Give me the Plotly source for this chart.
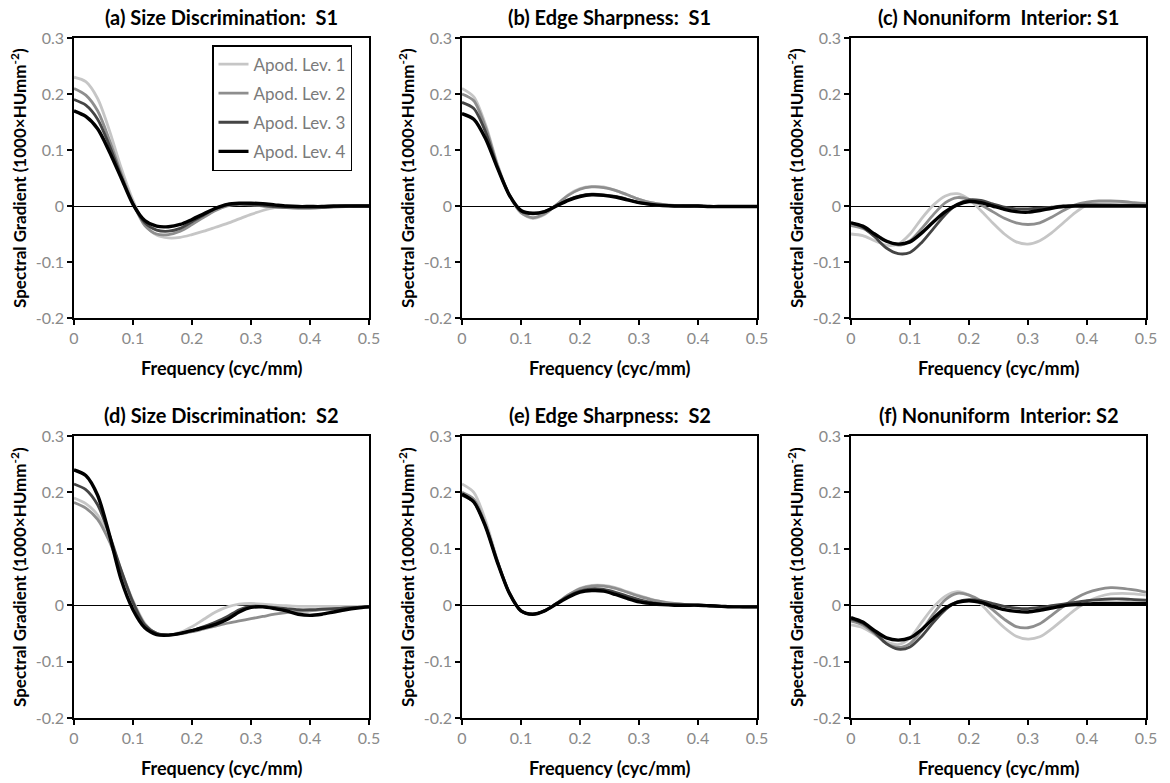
import plotly.graph_objects as go

freq = [round(i * 0.02, 2) for i in range(26)]

series_names = ["Apod. Lev. 1", "Apod. Lev. 2", "Apod. Lev. 3", "Apod. Lev. 4"]

panel_titles = [
    "(a) Size Discrimination:  S1",
    "(b) Edge Sharpness:  S1",
    "(c) Nonuniform  Interior: S1",
    "(d) Size Discrimination:  S2",
    "(e) Edge Sharpness:  S2",
    "(f) Nonuniform  Interior: S2",
]

# (a) Size Discrimination S1
a_lev1 = [.230, .222, .192, .135, .068, .010, -.033, -.052, -.057, -.056, -.051, -.045, -.038, -.031, -.023, -.015, -.008, -.003, -.002, -.003, -.003, -.002, -.001, 0, 0, 0]
a_lev2 = [.210, .198, .170, .118, .058, .005, -.035, -.050, -.051, -.045, -.033, -.020, -.008, .000, .003, .002, .000, -.002, -.003, -.004, -.004, -.003, -.002, -.001, 0, 0]
a_lev3 = [.190, .180, .155, .108, .053, .004, -.030, -.043, -.045, -.040, -.028, -.016, -.005, .002, .004, .003, .001, -.001, -.002, -.002, -.002, -.002, -.001, 0, 0, 0]
a_lev4 = [.170, .160, .138, .097, .050, .003, -.026, -.036, -.037, -.033, -.024, -.014, -.004, .003, .005, .005, .004, .002, 0, -.001, -.001, -.001, 0, 0, 0, 0]

# (b) Edge Sharpness S1
b_lev1 = [.210, .195, .145, .075, .020, -.012, -.022, -.015, .002, .020, .031, .035, .034, .028, .020, .012, .006, .003, .001, 0, 0, -.001, -.001, -.001, -.001, -.001]
b_lev2 = [.200, .188, .140, .073, .020, -.012, -.021, -.014, .002, .019, .030, .034, .033, .028, .020, .012, .006, .003, .001, 0, 0, -.001, -.001, -.001, -.001, -.001]
b_lev3 = [.185, .174, .132, .070, .020, -.009, -.014, -.010, .001, .011, .018, .021, .020, .017, .012, .006, .003, .001, 0, 0, 0, -.001, -.001, -.001, -.001, -.001]
b_lev4 = [.165, .155, .120, .068, .020, -.008, -.013, -.010, .000, .010, .017, .020, .019, .016, .011, .006, .003, .001, 0, 0, 0, -.001, -.001, -.001, -.001, -.001]

# (c) Nonuniform Interior S1
c_lev1 = [-.050, -.053, -.062, -.070, -.068, -.050, -.022, .002, .018, .022, .012, -.008, -.030, -.050, -.064, -.068, -.062, -.048, -.030, -.012, .002, .007, .008, .006, .004, .002]
c_lev2 = [-.035, -.040, -.050, -.062, -.070, -.062, -.040, -.015, .006, .015, .012, .002, -.010, -.022, -.030, -.033, -.030, -.020, -.008, .002, .007, .009, .009, .008, .006, .004]
c_lev3 = [-.030, -.038, -.055, -.075, -.085, -.083, -.065, -.040, -.015, .003, .011, .010, .004, -.002, -.005, -.005, -.004, -.002, 0, .001, .002, .002, .002, .001, .001, 0]
c_lev4 = [-.030, -.036, -.050, -.063, -.068, -.064, -.048, -.028, -.010, .002, .008, .006, .000, -.006, -.010, -.011, -.008, -.004, -.001, 0, 0, 0, 0, 0, 0, 0]

# (d) Size Discrimination S2
d_lev1 = [.190, .180, .160, .118, .062, .008, -.032, -.050, -.053, -.048, -.038, -.025, -.012, -.003, .002, .003, .002, .000, -.001, -.002, -.002, -.002, -.002, -.002, -.002, -.003]
d_lev2 = [.182, .172, .152, .113, .060, .006, -.034, -.050, -.053, -.051, -.047, -.042, -.037, -.032, -.028, -.024, -.020, -.016, -.013, -.011, -.010, -.008, -.007, -.005, -.004, -.003]
d_lev3 = [.215, .205, .178, .125, .062, .005, -.035, -.050, -.053, -.050, -.045, -.038, -.030, -.020, -.008, -.002, -.002, -.004, -.006, -.008, -.008, -.007, -.006, -.005, -.004, -.003]
d_lev4 = [.240, .230, .195, .125, .045, -.008, -.040, -.052, -.053, -.050, -.045, -.040, -.034, -.025, -.012, -.004, -.003, -.006, -.010, -.016, -.018, -.016, -.012, -.008, -.005, -.003]

# (e) Edge Sharpness S2
e_lev1 = [.215, .200, .150, .080, .022, -.010, -.016, -.010, .003, .018, .030, .035, .035, .031, .024, .017, .011, .006, .003, .001, 0, -.001, -.002, -.002, -.003, -.003]
e_lev2 = [.200, .188, .143, .078, .022, -.010, -.016, -.010, .003, .018, .029, .034, .034, .030, .023, .016, .010, .006, .003, .001, 0, -.001, -.002, -.002, -.003, -.003]
e_lev3 = [.195, .183, .140, .077, .022, -.010, -.016, -.010, .003, .016, .025, .029, .028, .023, .016, .010, .005, .002, .001, 0, 0, -.001, -.002, -.002, -.003, -.003]
e_lev4 = [.197, .183, .139, .076, .022, -.010, -.016, -.010, .002, .014, .023, .026, .025, .019, .012, .006, .003, .001, 0, 0, 0, -.001, -.002, -.003, -.003, -.003]

# (f) Nonuniform Interior S2
f_lev1 = [-.035, -.040, -.052, -.065, -.070, -.058, -.030, -.003, .016, .024, .018, .002, -.020, -.040, -.055, -.060, -.056, -.042, -.025, -.008, .006, .015, .020, .021, .020, .018]
f_lev2 = [-.028, -.035, -.050, -.068, -.075, -.068, -.045, -.015, .010, .021, .018, .008, -.008, -.025, -.038, -.040, -.033, -.018, -.002, .012, .022, .028, .031, .030, .027, .023]
f_lev3 = [-.025, -.032, -.048, -.068, -.078, -.074, -.055, -.030, -.008, .006, .010, .008, .003, -.002, -.005, -.006, -.004, -.001, .002, .005, .008, .010, .011, .011, .010, .009]
f_lev4 = [-.022, -.030, -.045, -.058, -.062, -.058, -.043, -.023, -.005, .005, .008, .005, -.002, -.008, -.011, -.012, -.009, -.005, -.001, .001, .002, .003, .003, .003, .003, .003]

panels = [
    [a_lev1, a_lev2, a_lev3, a_lev4],
    [b_lev1, b_lev2, b_lev3, b_lev4],
    [c_lev1, c_lev2, c_lev3, c_lev4],
    [d_lev1, d_lev2, d_lev3, d_lev4],
    [e_lev1, e_lev2, e_lev3, e_lev4],
    [f_lev1, f_lev2, f_lev3, f_lev4],
]

x_ticks = [0, 0.1, 0.2, 0.3, 0.4, 0.5]
x_tick_labels = ["0", "0.1", "0.2", "0.3", "0.4", "0.5"]
y_ticks = [-0.2, -0.1, 0, 0.1, 0.2, 0.3]
y_tick_labels = ["-0.2", "-0.1", "0", "0.1", "0.2", "0.3"]

x_title = "Frequency (cyc/mm)"
y_title = "Spectral Gradient (1000×HUmm<sup>-2</sup>)"

# ---- styling / layout ----
W, H = 1170, 783
colors = ["#c6c6c6", "#8e8e8e", "#454545", "#000000"]
widths = [2.8, 2.8, 2.8, 3.4]
FONT = "Lato"

col_px = [(74, 369), (462, 757), (851, 1146)]
row_px = [(38, 318), (436, 718)]

fig = go.Figure()
annotations = []

for i, data in enumerate(panels):
    r, c = divmod(i, 3)
    x0, x1 = col_px[c]
    y0, y1 = row_px[r]
    xa = "x" if i == 0 else f"x{i+1}"
    ya = "y" if i == 0 else f"y{i+1}"
    xkey = "xaxis" if i == 0 else f"xaxis{i+1}"
    ykey = "yaxis" if i == 0 else f"yaxis{i+1}"
    for k, ys in enumerate(data):
        fig.add_trace(go.Scatter(
            x=freq, y=ys, mode="lines", name=series_names[k],
            line=dict(color=colors[k], width=widths[k], shape="spline", smoothing=0.8),
            xaxis=xa, yaxis=ya, showlegend=(i == 0), legendgroup=f"g{k}",
        ))
    common = dict(showline=True, mirror=True, linecolor="black", linewidth=1.5,
                  showgrid=False, ticks="outside", ticklen=5, tickwidth=1.5,
                  tickcolor="black", automargin=False,
                  tickfont=dict(family=FONT, size=16, color="#8a8a8a"))
    fig.update_layout({
        xkey: dict(domain=[x0 / W, x1 / W], anchor=ya, range=[0, 0.5],
                   tickvals=x_ticks, ticktext=x_tick_labels, zeroline=False, **common),
        ykey: dict(domain=[1 - y1 / H, 1 - y0 / H], anchor=xa, range=[-0.2, 0.3],
                   tickvals=y_ticks, ticktext=y_tick_labels, zeroline=True,
                   zerolinecolor="black", zerolinewidth=1.2, **common),
    })
    cx = (x0 + x1) / 2 / W
    annotations.append(dict(text=f"<b>{panel_titles[i]}</b>", x=cx, y=1 - (y0 - 21) / H,
                            xref="paper", yref="paper", showarrow=False,
                            xanchor="center", yanchor="middle",
                            font=dict(family=FONT, size=20, color="black")))
    annotations.append(dict(text=f"<b>{x_title}</b>", x=cx, y=1 - (y1 + 50) / H,
                            xref="paper", yref="paper", showarrow=False,
                            xanchor="center", yanchor="middle",
                            font=dict(family=FONT, size=18, color="black")))
    annotations.append(dict(text=f"<b>{y_title}</b>", x=(x0 - 56) / W,
                            y=1 - (y0 + y1) / 2 / H,
                            xref="paper", yref="paper", showarrow=False, textangle=-90,
                            xanchor="center", yanchor="middle",
                            font=dict(family=FONT, size=17, color="black")))

fig.update_layout(
    width=W, height=H, margin=dict(l=0, r=0, t=0, b=0, autoexpand=False),
    paper_bgcolor="white", plot_bgcolor="white",
    annotations=annotations,
    showlegend=True,
    legend=dict(x=212 / W, y=1 - 45 / H, xanchor="left", yanchor="top",
                bgcolor="white", bordercolor="black", borderwidth=1.5,
                font=dict(family=FONT, size=17, color="#7a7a7a"),
                tracegroupgap=4, traceorder="grouped"),
)

fig.write_html("out.html")
